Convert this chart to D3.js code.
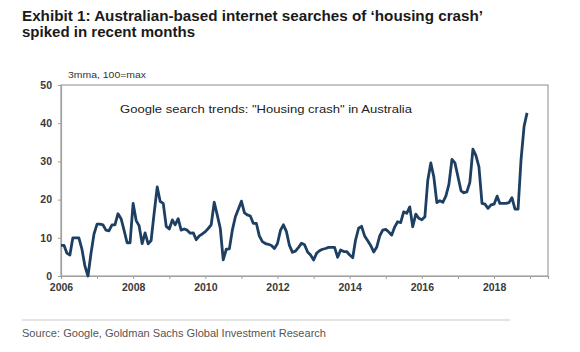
<!DOCTYPE html>
<html lang="en">
  <head>
    <meta charset="UTF-8" />
    <title>Housing crash searches</title>
    <script src="https://d3js.org/d3.v7.min.js"></script>
    <style>
      body { margin: 0; background: #fff; }
      svg text { font-family: "Liberation Sans", Arial, sans-serif; }
    </style>
  </head>
  <body>
    <div id="chart-container"></div>

    <script>
      // Monthly Google search index (3mma, 100=max), Jan 2006 - Dec 2018
      const startYear = 2006;
      const searchIndex = [
        8, 8, 6, 5.5, 10, 10, 10, 7, 2.5, 0, 6, 11,                    // 2006
        13.6, 13.6, 13.4, 12, 11.8, 13.4, 13.4, 16.3, 15, 12, 8.7, 8.7,  // 2007
        19, 14.5, 13.2, 8.5, 11.3, 8.4, 9.3, 16.5, 23.3, 19.5, 19, 13,   // 2008
        12.3, 14.7, 13.4, 15, 12, 12.3, 12, 11.2, 11.3, 9.5, 10.5, 11,   // 2009
        11.6, 12.5, 13.4, 19.3, 16, 12.5, 4.2, 7, 7.1, 12, 15.5, 17.5,   // 2010
        19.6, 16.5, 16, 15.7, 13.8, 13.8, 10.5, 9, 8.5, 8.3, 8, 7.2,     // 2011
        8.5, 12, 13.4, 11.6, 8, 6.2, 6.5, 7.5, 8.6, 8.2, 6.3, 5.5,       // 2012
        4.2, 6, 6.6, 7, 7.2, 7.5, 7.5, 7.5, 4.9, 6.8, 6.4, 6.4,          // 2013
        5.5, 4.8, 9.4, 12.5, 13, 10.5, 9.3, 8, 6.3, 7.5, 10.5, 12,       // 2014
        12.2, 11.5, 10.7, 12.8, 14.2, 14, 16.8, 16.4, 18.1, 12.9, 16.2, 15.1, // 2015
        14.7, 15.5, 25, 29.6, 26, 19.2, 19.7, 19.3, 21, 24, 30.5, 29.6,  // 2016
        26, 22.3, 21.8, 22, 24.5, 33.2, 31.6, 28.6, 19, 18.8, 17.7, 18.6, // 2017
        18.8, 20.9, 19, 19, 19, 19.2, 20.5, 17.5, 17.5, 30.4, 39.2, 42.7  // 2018
      ];
      const yTicks = [0, 10, 20, 30, 40, 50];
      const xTickYears = d3.range(2006, 2020);
      const xLabelYears = [2006, 2008, 2010, 2012, 2014, 2016, 2018];

      const W = 580, H = 352;
      const plot = { left: 61, right: 548, top: 85, bottom: 276 };

      const svg = d3
        .select("#chart-container")
        .append("svg")
        .attr("width", W)
        .attr("height", H);

      // Title
      svg.append("text")
        .attr("x", 22).attr("y", 21)
        .attr("font-size", 15).attr("font-weight", "bold").attr("fill", "#1a1a1a")
        .attr("textLength", 461).attr("lengthAdjust", "spacingAndGlyphs")
        .text("Exhibit 1: Australian-based internet searches of \u2018housing crash\u2019");
      svg.append("text")
        .attr("x", 22).attr("y", 37)
        .attr("font-size", 15).attr("font-weight", "bold").attr("fill", "#1a1a1a")
        .attr("textLength", 173).attr("lengthAdjust", "spacingAndGlyphs")
        .text("spiked in recent months");

      // Scales
      const x = d3.scaleTime()
        .domain([new Date(2006, 0, 1), new Date(2019, 6, 1)])
        .range([plot.left, plot.right]);
      const y = d3.scaleLinear()
        .domain([0, 50])
        .range([plot.bottom, plot.top]);

      // Plot frame
      svg.append("rect")
        .attr("x", plot.left).attr("y", plot.top)
        .attr("width", plot.right - plot.left)
        .attr("height", plot.bottom - plot.top)
        .attr("fill", "none").attr("stroke", "#a0a0a0").attr("stroke-width", 1.2);

      // Axes
      const yAxis = d3.axisLeft(y).tickValues(yTicks).tickSize(3).tickPadding(6);
      const gy = svg.append("g")
        .attr("transform", "translate(" + plot.left + ",0)")
        .call(yAxis);
      const xAxis = d3.axisBottom(x)
        .tickValues(xTickYears.map((yr) => new Date(yr, 0, 1)))
        .tickSize(3).tickPadding(5)
        .tickFormat((d) => xLabelYears.includes(d.getFullYear()) ? d.getFullYear() : "");
      const gx = svg.append("g")
        .attr("transform", "translate(0," + plot.bottom + ")")
        .call(xAxis);

      [gx, gy].forEach((g) => {
        g.select(".domain").attr("stroke", "#a0a0a0").attr("stroke-width", 1.2);
        g.selectAll(".tick line").attr("stroke", "#a0a0a0");
        g.selectAll(".tick text")
          .attr("font-size", 10.5).attr("font-weight", "bold").attr("fill", "#3a3a3a")
          .style("font-family", "'Liberation Sans', Arial, sans-serif");
      });

      // Axis unit note
      svg.append("text")
        .attr("x", 68).attr("y", 78)
        .attr("font-size", 8.5).attr("fill", "#333")
        .attr("textLength", 78).attr("lengthAdjust", "spacingAndGlyphs")
        .text("3mma, 100=max");

      // Series label
      svg.append("text")
        .attr("x", 120).attr("y", 113)
        .attr("font-size", 11).attr("fill", "#222")
        .attr("textLength", 292).attr("lengthAdjust", "spacingAndGlyphs")
        .text("Google search trends: \"Housing crash\" in Australia");

      // Line
      const line = d3.line()
        .x((d, i) => x(new Date(startYear, i, 1)))
        .y((d) => y(d));
      svg.append("path")
        .datum(searchIndex)
        .attr("d", line)
        .attr("fill", "none")
        .attr("stroke", "#1d3f62")
        .attr("stroke-width", 2.8)
        .attr("stroke-linejoin", "round");

      // Source rule and text
      svg.append("line")
        .attr("x1", 22).attr("x2", 510)
        .attr("y1", 320).attr("y2", 320)
        .attr("stroke", "#c8c8c8").attr("stroke-width", 1.2);
      svg.append("text")
        .attr("x", 22).attr("y", 337)
        .attr("font-size", 10.5).attr("fill", "#555")
        .attr("textLength", 304).attr("lengthAdjust", "spacingAndGlyphs")
        .text("Source: Google, Goldman Sachs Global Investment Research");
    </script>
  </body>
</html>
